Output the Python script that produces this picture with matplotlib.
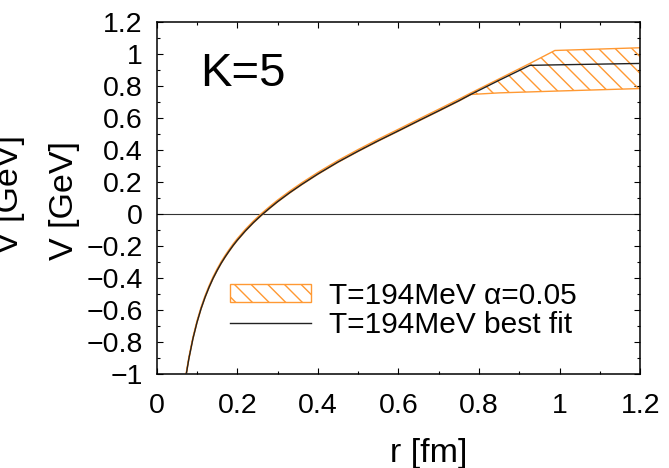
import numpy as np
import matplotlib
matplotlib.use("Agg")
import matplotlib.pyplot as plt
from matplotlib.ticker import MultipleLocator

plt.rcParams['font.family'] = ['Liberation Sans', 'DejaVu Sans']
plt.rcParams['hatch.linewidth'] = 1.0

# best fit curve
r_fit = [0.0735, 0.08, 0.09, 0.10, 0.11, 0.12, 0.13, 0.14, 0.15, 0.16, 0.17, 0.18, 0.19,
         0.20, 0.22, 0.24, 0.26, 0.28, 0.30, 0.33, 0.36, 0.40, 0.45, 0.50, 0.55, 0.60,
         0.65, 0.70, 0.75, 0.78, 0.85, 0.926, 0.988, 1.2]
V_fit = [-1.0, -0.903, -0.779, -0.678, -0.593, -0.521, -0.458, -0.402, -0.353, -0.308,
         -0.268, -0.231, -0.196, -0.164, -0.106, -0.054, -0.007, 0.036, 0.077, 0.133,
         0.185, 0.250, 0.325, 0.393, 0.458, 0.520, 0.583, 0.645, 0.708, 0.748, 0.836,
         0.929, 0.932, 0.941]

# alpha=0.05 band, same r grid
V_lo = [-1.0, -0.905, -0.781, -0.680, -0.595, -0.523, -0.460, -0.404, -0.355, -0.310,
        -0.270, -0.233, -0.198, -0.166, -0.108, -0.056, -0.009, 0.034, 0.075, 0.131,
        0.183, 0.248, 0.323, 0.391, 0.456, 0.518, 0.581, 0.643, 0.706, 0.747, 0.757,
        0.763, 0.768, 0.784]
V_hi = [-0.99, -0.893, -0.769, -0.668, -0.583, -0.511, -0.448, -0.392, -0.343, -0.298,
        -0.258, -0.221, -0.186, -0.154, -0.096, -0.044, 0.003, 0.046, 0.087, 0.143,
        0.195, 0.260, 0.335, 0.403, 0.468, 0.530, 0.593, 0.655, 0.718, 0.757, 0.845,
        0.941, 1.022, 1.039]

xticks = [0, 0.2, 0.4, 0.6, 0.8, 1.0, 1.2]
xticklabels = ['0', '0.2', '0.4', '0.6', '0.8', '1', '1.2']
yticks = [-1, -0.8, -0.6, -0.4, -0.2, 0, 0.2, 0.4, 0.6, 0.8, 1.0, 1.2]
yticklabels = ['\u22121', '\u22120.8', '\u22120.6', '\u22120.4', '\u22120.2', '0',
               '0.2', '0.4', '0.6', '0.8', '1', '1.2']

orange = '#ff9933'

fig = plt.figure(figsize=(6.69, 4.68), dpi=100)
ax = fig.add_axes([0.2342, 0.2009, 0.7229, 0.7521])

ax.axhline(0, color='#333333', lw=0.8, zorder=1)
ax.fill_between(r_fit, V_lo, V_hi, facecolor='none', edgecolor=orange, hatch='\\\\',
                lw=1.0, label='T=194MeV \u03b1=0.05', zorder=2)
ax.plot(r_fit, V_fit, color='#222222', lw=1.0, label='T=194MeV best fit', zorder=3)

ax.set_xlim(0, 1.2)
ax.set_ylim(-1, 1.2)
ax.set_xticks(xticks)
ax.set_xticklabels(xticklabels)
ax.set_yticks(yticks)
ax.set_yticklabels(yticklabels)
ax.xaxis.set_minor_locator(MultipleLocator(0.1))
ax.yaxis.set_minor_locator(MultipleLocator(0.1))
ax.tick_params(which='both', direction='in', top=True, right=True, width=0.8)
ax.tick_params(which='major', length=4.5)
ax.tick_params(which='minor', length=2.5)
ax.tick_params(axis='y', labelsize=20.5, pad=10)
ax.tick_params(axis='x', labelsize=20.5, pad=14)
for s in ax.spines.values():
    s.set_linewidth(1.1)

ax.set_xlabel('r [fm]', fontsize=24.5)
ax.xaxis.set_label_coords(0.563, -0.182)
ax.set_ylabel('V [GeV]', fontsize=24.5)
ax.yaxis.set_label_coords(-0.159, 0.494)
# second, clipped copy of the label at the left edge
ax.text(-0.272, 0.509, 'V [GeV]', transform=ax.transAxes, fontsize=24.5, rotation=90,
        rotation_mode='anchor', ha='center', va='bottom', clip_on=False)

ax.text(0.107, 0.80, 'K=5', fontsize=34, va='baseline', ha='left')

ax.legend(loc='upper left', bbox_to_anchor=(0.152, 0.262), frameon=False, fontsize=21.5,
          borderpad=0, borderaxespad=0, handlelength=2.7, handleheight=0.55,
          handletextpad=0.6, labelspacing=0.05)

fig.savefig('out.png', dpi=100)
